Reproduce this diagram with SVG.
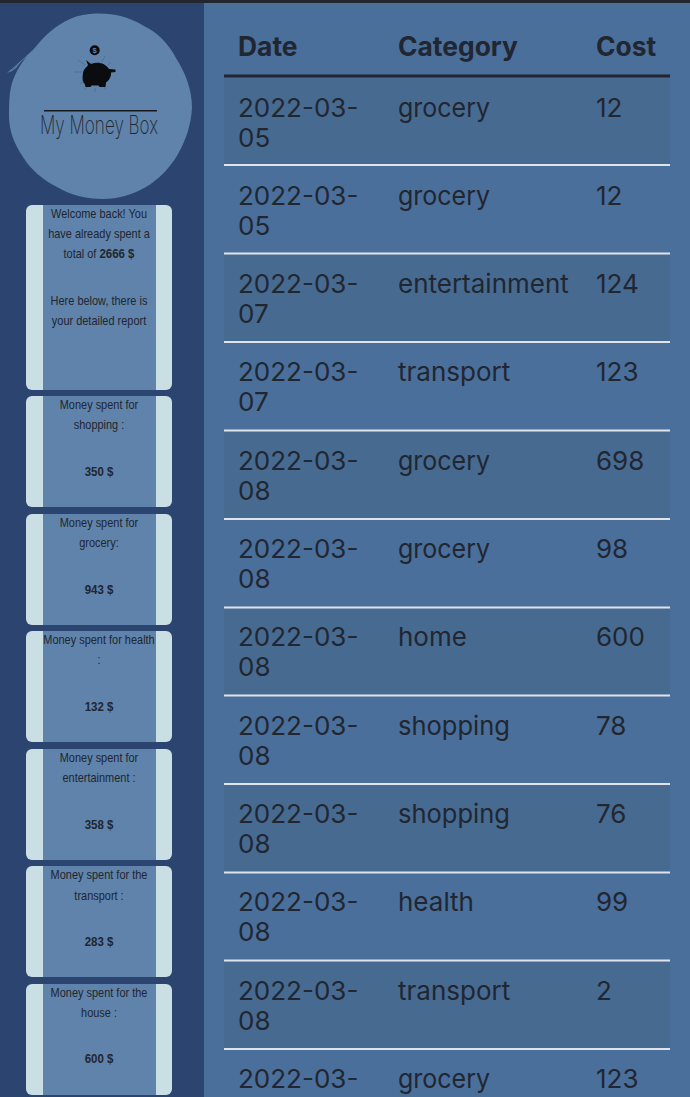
<svg xmlns="http://www.w3.org/2000/svg" width="690" height="1097" viewBox="0 0 690 1097">
<style>
.t{font-family:"Inter","Liberation Sans",sans-serif;font-size:26px;fill:#212630}
.h{font-weight:700;font-size:26.4px}
.c{font-family:"Liberation Sans",Arial,sans-serif;font-size:12.6px;fill:#212630;text-anchor:middle}
.b{font-weight:700;font-size:13.2px}
.card{fill:#c9dfe4}
.inner{fill:#5f83aa}
.sep{stroke:#dfe4ea;stroke-width:2}
.odd{fill:#476a91}
.ray{stroke:#4a6a8e;stroke-width:.7}
</style>
<defs>
<g id="cardbg"><rect class="card" x="26" y="0" width="146" height="111" rx="6"/><rect class="inner" x="43" y="0" width="113" height="111"/></g>
</defs>
<rect width="690" height="1097" fill="#4a6f9b"/>
<rect x="0" y="0" width="204" height="1097" fill="#2c4470"/>
<rect x="0" y="0" width="690" height="3" fill="#23262f"/>
<g id="logo">
<path d="M96 13.500C112 13 128 16 144 26C158 33 168 43 176 58C186 74 192 90 192 108C191 125 186 140 178 154C170 168 158 180 146 187C132 195 118 199 103 199C86 199 70 195 57 187C43 180 31 170 23 157C14 144 9 130 9 116C9 105 9 96 11 87C14 74 22 60 33 50C44 36 56 25 70 19C78 15 87 14 96 13.500Z" fill="#5f83aa"/>
<path d="M7 73L34 49L30 54L22 61L16 68L12 71Z" fill="#5f83aa"/>
<g stroke="#2c4470" stroke-width=".6" fill="none"><path d="M12 70L22 58M17 67L26 56"/></g>
<g id="piggy">
<path class="ray" d="M74 72H82M78 60L85 65M80 84L85 81M95 92V88M106 90L104 87M111 62L108 65M105 56L102 62M84 90L87 87"/>
<g fill="#0a0c10">
<circle cx="94.700" cy="50.300" r="5"/>
<path d="M86 60L91 64C98 61.500 105 63 109 69L115.500 69.500V72L111 72.500V75C110 79 108 81 106 82.500L105.500 87H99.500L98.500 85.500H91.500L90.500 87H85.500L84.500 83.500C82 81.500 82.500 77 83 73C83.500 69 86.500 67.500 88 65Z"/>
</g>
<text x="94.700" y="53" text-anchor="middle" font-family="Liberation Sans,sans-serif" font-size="7.500" font-weight="700" fill="#5f83aa">$</text>
</g>
<rect x="44" y="110" width="113" height="1.500" fill="#15181e"/>
<text x="99" y="134" text-anchor="middle" font-family="Inter,'Liberation Sans',sans-serif" font-size="25.500" font-weight="200" fill="#212630" textLength="118" lengthAdjust="spacingAndGlyphs">My Money Box</text>
</g>
<g id="card-welcome">
<rect class="card" x="26" y="205" width="146" height="185" rx="6"/><rect class="inner" x="43" y="205" width="113" height="185"/>
<g transform="translate(99 0) scale(.87 1)">
<text class="c" x="0" y="218">Welcome back! You</text>
<text class="c" x="0" y="238">have already spent a</text>
<text class="c" x="0" y="258">total of <tspan class="b">2666 $</tspan></text>
<text class="c" x="0" y="305">Here below, there is</text>
<text class="c" x="0" y="325">your detailed report</text>
</g></g>
<g id="card-shopping" transform="translate(0 396)"><use href="#cardbg"/><g transform="translate(99 0) scale(.87 1)">
<text class="c" x="0" y="13">Money spent for</text><text class="c" x="0" y="33.500">shopping :</text><text class="c b" x="0" y="80">350 $</text></g></g>
<g id="card-grocery" transform="translate(0 514)"><use href="#cardbg"/><g transform="translate(99 0) scale(.87 1)">
<text class="c" x="0" y="13">Money spent for</text><text class="c" x="0" y="33">grocery:</text><text class="c b" x="0" y="80">943 $</text></g></g>
<g id="card-health" transform="translate(0 631)"><use href="#cardbg"/><g transform="translate(99 0) scale(.87 1)">
<text class="c" x="0" y="13">Money spent for health</text><text class="c" x="0" y="33">:</text><text class="c b" x="0" y="80">132 $</text></g></g>
<g id="card-entertainment" transform="translate(0 749)"><use href="#cardbg"/><g transform="translate(99 0) scale(.87 1)">
<text class="c" x="0" y="13">Money spent for</text><text class="c" x="0" y="33">entertainment :</text><text class="c b" x="0" y="80">358 $</text></g></g>
<g id="card-transport" transform="translate(0 866)"><use href="#cardbg"/><g transform="translate(99 0) scale(.87 1)">
<text class="c" x="0" y="13">Money spent for the</text><text class="c" x="0" y="34">transport :</text><text class="c b" x="0" y="80">283 $</text></g></g>
<g id="card-house" transform="translate(0 984)"><use href="#cardbg"/><g transform="translate(99 0) scale(.87 1)">
<text class="c" x="0" y="13">Money spent for the</text><text class="c" x="0" y="33">house :</text><text class="c b" x="0" y="79">600 $</text></g></g>
<g id="table">
<rect class="odd" x="224" y="78" width="446" height="86"/>
<rect class="odd" x="224" y="255" width="446" height="86"/>
<rect class="odd" x="224" y="432" width="446" height="86"/>
<rect class="odd" x="224" y="609" width="446" height="86"/>
<rect class="odd" x="224" y="785" width="446" height="87"/>
<rect class="odd" x="224" y="962" width="446" height="86"/>
<rect x="224" y="74.500" width="446" height="3" fill="#212630"/>
<line class="sep" x1="224" x2="670" y1="165" y2="165"/>
<line class="sep" x1="224" x2="670" y1="253.500" y2="253.500"/>
<line class="sep" x1="224" x2="670" y1="342" y2="342"/>
<line class="sep" x1="224" x2="670" y1="430.500" y2="430.500"/>
<line class="sep" x1="224" x2="670" y1="519" y2="519"/>
<line class="sep" x1="224" x2="670" y1="607.500" y2="607.500"/>
<line class="sep" x1="224" x2="670" y1="695.500" y2="695.500"/>
<line class="sep" x1="224" x2="670" y1="784" y2="784"/>
<line class="sep" x1="224" x2="670" y1="872.500" y2="872.500"/>
<line class="sep" x1="224" x2="670" y1="960.500" y2="960.500"/>
<line class="sep" x1="224" x2="670" y1="1049" y2="1049"/>
<text class="t h" x="238" y="56">Date</text><text class="t h" x="398" y="56">Category</text><text class="t h" x="596" y="56">Cost</text>
<text class="t" x="238" y="117">2022-03-</text><text class="t" x="238" y="147">05</text><text class="t" x="398" y="117" textLength="92" lengthAdjust="spacingAndGlyphs">grocery</text><text class="t" x="596" y="117">12</text>
<text class="t" x="238" y="205">2022-03-</text><text class="t" x="238" y="235">05</text><text class="t" x="398" y="205" textLength="92" lengthAdjust="spacingAndGlyphs">grocery</text><text class="t" x="596" y="205">12</text>
<text class="t" x="238" y="293">2022-03-</text><text class="t" x="238" y="323">07</text><text class="t" x="398" y="293">entertainment</text><text class="t" x="596" y="293">124</text>
<text class="t" x="238" y="381">2022-03-</text><text class="t" x="238" y="411">07</text><text class="t" x="398" y="381">transport</text><text class="t" x="596" y="381">123</text>
<text class="t" x="238" y="470">2022-03-</text><text class="t" x="238" y="500">08</text><text class="t" x="398" y="470" textLength="92" lengthAdjust="spacingAndGlyphs">grocery</text><text class="t" x="596" y="470">698</text>
<text class="t" x="238" y="558">2022-03-</text><text class="t" x="238" y="588">08</text><text class="t" x="398" y="558" textLength="92" lengthAdjust="spacingAndGlyphs">grocery</text><text class="t" x="596" y="558">98</text>
<text class="t" x="238" y="646">2022-03-</text><text class="t" x="238" y="676">08</text><text class="t" x="398" y="646">home</text><text class="t" x="596" y="646">600</text>
<text class="t" x="238" y="735">2022-03-</text><text class="t" x="238" y="765">08</text><text class="t" x="398" y="735" textLength="112" lengthAdjust="spacingAndGlyphs">shopping</text><text class="t" x="596" y="735">78</text>
<text class="t" x="238" y="823">2022-03-</text><text class="t" x="238" y="853">08</text><text class="t" x="398" y="823" textLength="112" lengthAdjust="spacingAndGlyphs">shopping</text><text class="t" x="596" y="823">76</text>
<text class="t" x="238" y="911">2022-03-</text><text class="t" x="238" y="941">08</text><text class="t" x="398" y="911">health</text><text class="t" x="596" y="911">99</text>
<text class="t" x="238" y="1000">2022-03-</text><text class="t" x="238" y="1030">08</text><text class="t" x="398" y="1000">transport</text><text class="t" x="596" y="1000">2</text>
<text class="t" x="238" y="1088">2022-03-</text><text class="t" x="398" y="1088" textLength="92" lengthAdjust="spacingAndGlyphs">grocery</text><text class="t" x="596" y="1088">123</text>
</g>
</svg>
